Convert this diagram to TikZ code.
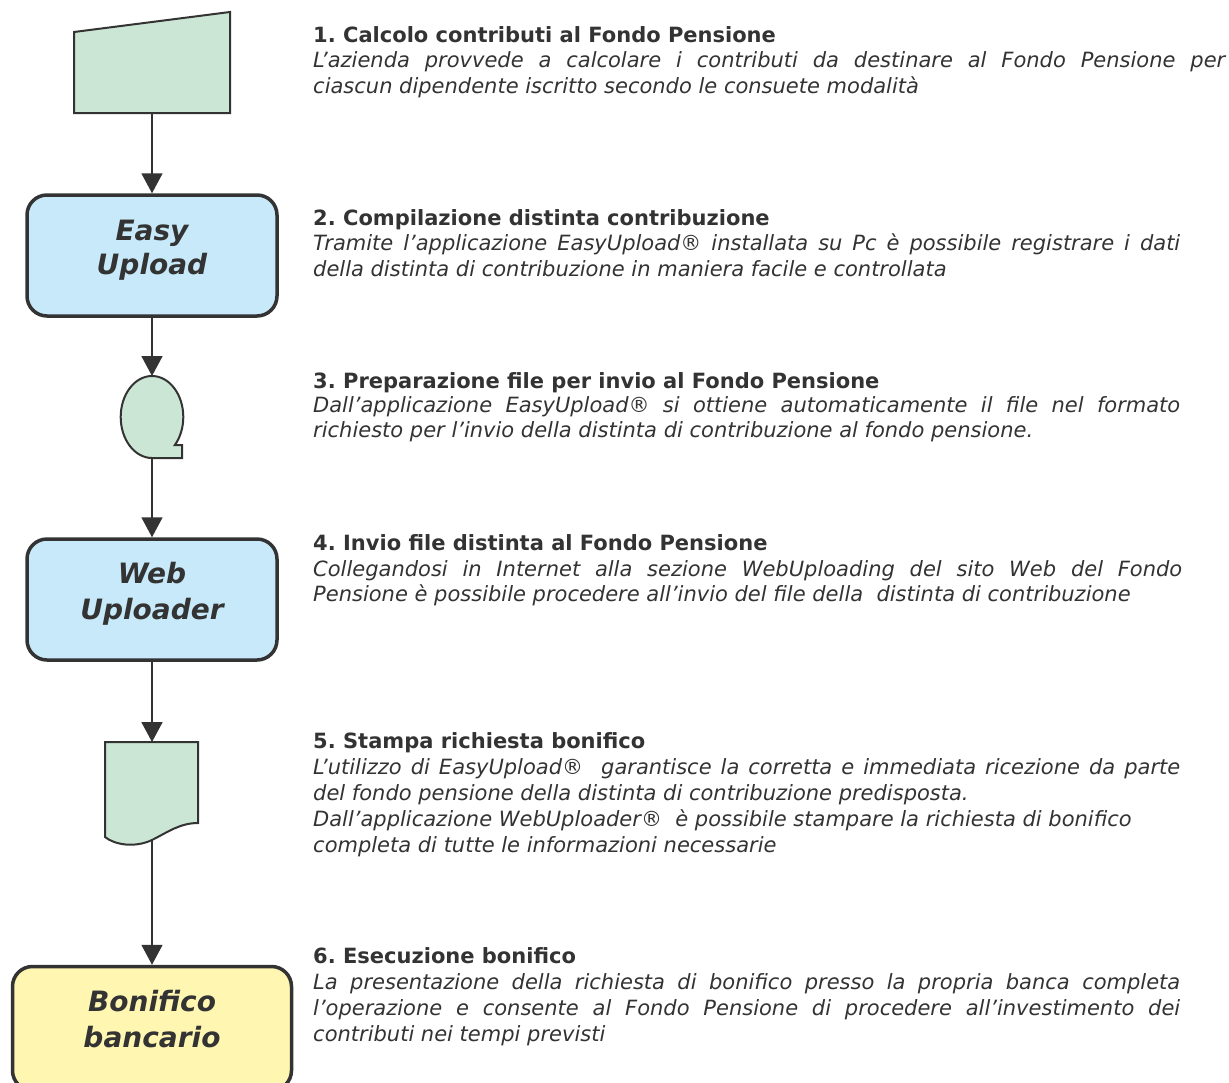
\documentclass[tikz,border=0pt]{standalone}
\usepackage{fontspec}
\setmainfont{DejaVu Sans}
\frenchspacing
\usetikzlibrary{arrows.meta}
\definecolor{txt}{HTML}{333333}
\definecolor{linec}{HTML}{333333}
\definecolor{greenF}{HTML}{CCE6D5}
\definecolor{blueF}{HTML}{C7E9F9}
\definecolor{yellowF}{HTML}{FFF6B2}
\tikzset{
  shp/.style={draw=linec, line width=2pt, line join=miter},
  rbox/.style={rectangle, draw=linec, line width=3.5pt, rounded corners=20pt, inner sep=0pt},
  boxt/.style={anchor=base, inner sep=0pt, text=txt, font=\fontsize{28}{35}\selectfont\bfseries\itshape\frenchspacing},
  hd/.style={anchor=base west, inner sep=0pt, text=txt, font=\fontsize{21}{26}\selectfont\bfseries\frenchspacing},
  bd/.style={anchor=base west, inner sep=0pt, text=txt, font=\fontsize{21}{26}\selectfont\itshape\frenchspacing},
  arr/.style={draw=linec, line width=1.8pt, -{Triangle[length=20pt,width=21pt]}}
}
\begin{document}
\begin{tikzpicture}[x=1pt,y=-1pt]
\useasboundingbox (0,0) rectangle (1229,1082);
\fill[white] (0,0) rectangle (1229,1082);

% shape 1: manual input
\draw[shp, fill=greenF] (74,32) -- (230,12) -- (230,113) -- (74,113) -- cycle;
\coordinate (mi) at (152,113);

% shape 2: Easy Upload
\node[rbox, fill=blueF, minimum width=250pt, minimum height=121pt] (eu) at (152,255.5) {};
\node[boxt] (eu1) at (152,240) {Easy};
\node[boxt] (eu2) at (152,274) {Upload};

% shape 3: sequential storage
\draw[shp, fill=greenF] (152,458) arc[start angle=90, end angle=403.1, x radius=31.3, y radius=41] -- (182,445) -- (182,458) -- cycle;
\coordinate (qtop) at (152,376);
\coordinate (qbot) at (152,458);

% shape 4: Web Uploader
\node[rbox, fill=blueF, minimum width=250pt, minimum height=121pt] (wu) at (152,599.5) {};
\node[boxt] (wu1) at (152,583) {Web};
\node[boxt] (wu2) at (152,619) {Uploader};

% shape 5: document
\draw[shp, fill=greenF] (105,742) -- (198,742) -- (198,823) .. controls (180,823) and (168,832) .. (152,840) .. controls (135,848) and (115,845) .. (105,837) -- cycle;
\coordinate (doctop) at (152,742);
\coordinate (docbot) at (152,840);

% shape 6: Bonifico bancario
\node[rbox, fill=yellowF, minimum width=279pt, minimum height=124pt] (bb) at (152,1028.5) {};
\node[boxt] (bb1) at (152,1011) {Bonifico};
\node[boxt] (bb2) at (152,1047) {bancario};

% connectors
\draw[arr] (mi) -- (eu.north);
\draw[arr] (eu.south) -- (qtop);
\draw[arr] (qbot) -- (wu.north);
\draw[arr] (wu.south) -- (doctop);
\draw[arr] (docbot) -- (bb.north);

% texts
\node[hd] (t1h) at (313,42) {1. Calcolo contributi al Fondo Pensione};
\node[bd] (t1a) at (313,67) {\makebox[912pt][s]{L’azienda provvede a calcolare i contributi da destinare al Fondo Pensione per}};
\node[bd] (t1b) at (313,93) {ciascun dipendente iscritto secondo le consuete modalità};

\node[hd] (t2h) at (313,225) {2. Compilazione distinta contribuzione};
\node[bd] (t2a) at (313,250) {\makebox[867pt][s]{Tramite l’applicazione EasyUpload® installata su Pc è possibile registrare i dati}};
\node[bd] (t2b) at (313,276) {della distinta di contribuzione in maniera facile e controllata};

\node[hd] (t3h) at (313,388) {3. Preparazione file per invio al Fondo Pensione};
\node[bd] (t3a) at (313,412) {\makebox[867pt][s]{Dall’applicazione EasyUpload® si ottiene automaticamente il file nel formato}};
\node[bd] (t3b) at (313,437.5) {richiesto per l’invio della distinta di contribuzione al fondo pensione.};

\node[hd] (t4h) at (313,550.5) {4. Invio file distinta al Fondo Pensione};
\node[bd] (t4a) at (313,576) {\makebox[869pt][s]{Collegandosi in Internet alla sezione WebUploading del sito Web del Fondo}};
\node[bd] (t4b) at (313,601.5) {Pensione è possibile procedere all’invio del file della~ distinta di contribuzione};

\node[hd] (t5h) at (313,748) {5. Stampa richiesta bonifico};
\node[bd] (t5a) at (313,774) {\makebox[867pt][s]{L’utilizzo di EasyUpload®~ garantisce la corretta e immediata ricezione da parte}};
\node[bd] (t5b) at (313,800) {del fondo pensione della distinta di contribuzione predisposta.};
\node[bd] (t5c) at (313,826) {Dall’applicazione WebUploader®~ è possibile stampare la richiesta di bonifico};
\node[bd] (t5d) at (313,852) {completa di tutte le informazioni necessarie};

\node[hd] (t6h) at (313,963) {6. Esecuzione bonifico};
\node[bd] (t6a) at (313,989) {\makebox[867pt][s]{La presentazione della richiesta di bonifico presso la propria banca completa}};
\node[bd] (t6b) at (313,1015) {\makebox[867pt][s]{l’operazione e consente al Fondo Pensione di procedere all’investimento dei}};
\node[bd] (t6c) at (313,1041) {contributi nei tempi previsti};
\end{tikzpicture}
\end{document}
